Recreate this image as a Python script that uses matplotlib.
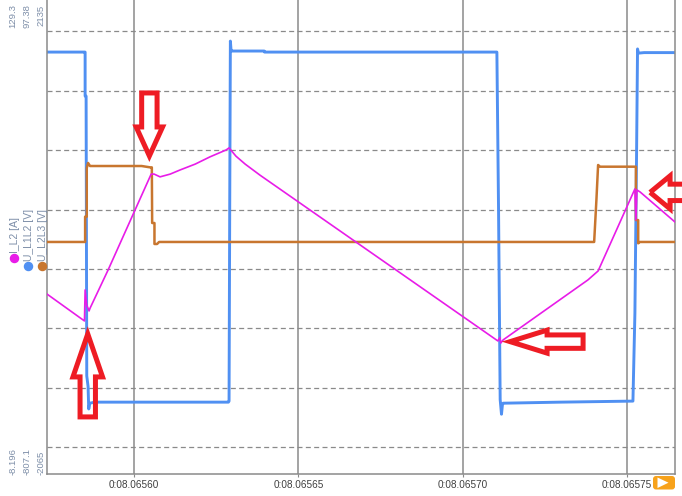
import matplotlib
matplotlib.use("Agg")
import matplotlib.pyplot as plt
import numpy as np
from matplotlib.patches import Polygon, FancyBboxPatch
from matplotlib.lines import Line2D
from matplotlib.transforms import IdentityTransform

plt.rcParams['font.family'] = ['Liberation Sans', 'DejaVu Sans']
plt.rcParams['lines.scale_dashes'] = False

W, H = 682, 496

# time in microseconds after 0:08.06560
t_i = [-26.5, -15.1, -14.9, -14.4, -13.7, -13.4, -7.9, 5.2, 6.1, 7.9, 11.0, 14.0, 18.6, 23.1,
       28.0, 28.9, 31.0, 33.8, 38.3, 110.7, 111.3, 111.6, 112.3, 138.1, 141.2, 152.4, 152.7,
       153.0, 154.0, 164.6]
i_l2 = [44.0, 36.2, 45.2, 40.8, 39.1, 39.9, 51.0, 78.8, 78.8, 78.0, 78.8, 80.0, 81.7, 83.8,
        85.8, 86.4, 84.0, 81.7, 78.5, 30.4, 31.4, 29.8, 30.7, 48.1, 50.7, 74.5, 65.5,
        74.2, 73.6, 64.9]

t_u12 = [-26.5, -15.1, -14.9, -14.9, -14.6, -14.4, -14.0, -13.8, -13.5, -11.9, 28.7, 28.9, 29.1,
         29.3, 29.5, 29.8, 39.6, 39.7, 110.4, 110.9, 111.4, 111.8, 112.1, 112.3, 129.6, 151.8,
         152.4, 152.9, 153.2, 153.5, 155.2, 164.6]
u_l1l2 = [-2, -2, -2, -86, -86, -620, -640, -683, -672, -670, -670, -668, -300,
          19, 2, 0, 0, -2, -2, -300, -665, -693, -674, -672, -670, -668,
          -500, -200, 4, -4, -3, -3]

t_u23 = [-26.5, -14.9, -14.9, -14.4, -14.4, -14.0, -13.4, 2.3, 4.9, 5.4, 5.5, 6.2, 6.2, 7.0,
         7.6, 140.0, 140.7, 141.2, 141.8, 152.1, 152.7, 152.7, 153.4, 153.4, 153.9, 164.6]
u_l2l3 = [-9, -9, 215, 215, 646, 691, 664, 664, 652, 652, 159, 159, -27, -27,
          -9, -9, 372, 673, 658, 658, 658, 185, 185, -21, -9, -9]

names = ["I_L2 [A]", "U_L1L2 [V]", "U_L2L3 [V]"]
colors = ["#e81ce8", "#5090f2", "#c8762f"]
top_labels = ["129.3", "97.38", "2135"]
bottom_labels = ["-8.196", "-807.1", "-2065"]
ranges = [(-8.196, 129.3), (-807.1, 97.38), (-2065, 2135)]

xticks = [0, 50, 100, 150]
xlim = (-26.5, 164.6)

RED = "#ee1c24"
LBL = "#7d8ea8"
GRID = "#8a8a8a"

fig = plt.figure(figsize=(W / 100, H / 100), dpi=100)
ax = fig.add_axes([47 / W, 1 - 474 / H, 628 / W, 474 / H])
ax_o = ax.twinx()
ax_i = ax.twinx()

ax.set_ylim(*ranges[1])
ax_o.set_ylim(*ranges[2])
ax_i.set_ylim(*ranges[0])
ax.set_xlim(*xlim)

# screen divisions
lo, hi = ranges[1]
frac = np.linspace(1 - 31.3 / 474, 1 - 447.3 / 474, 8)
ax.set_yticks(lo + frac * (hi - lo))
ax.grid(axis='y', color=GRID, lw=0.9, linestyle=(0, (3.6, 2.4)))
ax.set_xticks(xticks)
ax.set_xticklabels([f"0:{8.0656 + t * 1e-6:08.5f}" for t in xticks])
ax.grid(axis='x', color=GRID, lw=1.1, linestyle='-')
ax.tick_params(axis='y', left=False, labelleft=False, right=False, labelright=False)
ax.tick_params(axis='x', length=2, color=GRID, pad=2, labelsize=7.2, labelcolor='#404040')
for a in (ax_o, ax_i):
    a.tick_params(left=False, right=False, labelleft=False, labelright=False)
    for s in a.spines.values():
        s.set_visible(False)
ax.spines['top'].set_visible(False)
for s in ('left', 'right', 'bottom'):
    ax.spines[s].set_color(GRID)
    ax.spines[s].set_linewidth(1.1)

ax.plot(t_u12, u_l1l2, color=colors[1], lw=2.1)
ax_o.plot(t_u23, u_l2l3, color=colors[2], lw=1.8)
ax_i.plot(t_i, i_l2, color=colors[0], lw=1.2)

# left side channel scales and legend
col_x = [12.7, 26.5, 40.5]
for k in range(3):
    fig.text(col_x[k] / W, 1 - 4.5 / H, top_labels[k], rotation=90, ha='center', va='top',
             fontsize=6.8, color=LBL)
    fig.text((col_x[k] + 0.5) / W, 1 - 475 / H, bottom_labels[k], rotation=90, ha='center',
             va='bottom', fontsize=6.8, color=LBL)
leg_x = [14, 27.7, 41.7]
leg_dot = [257.7, 266, 266]
for k in range(3):
    fig.text((leg_x[k] + 1.5) / W, 1 - (leg_dot[k] - 5) / H, names[k], rotation=90,
             ha='center', va='bottom', fontsize=7.5, color=LBL)
    fig.add_artist(Line2D([leg_x[k] / W], [1 - leg_dot[k] / H], marker='o', ms=5.8,
                          color=colors[k], transform=fig.transFigure))


# hand drawn block arrows
def block_arrow(tip, direction, head_len, head_half, shaft_half, length):
    x0, y0 = ax_i.transData.transform(tip)
    dx, dy = direction
    px, py = -dy, dx
    d = 1.0
    local = [(-4, 0), (-head_len, head_half - d), (-head_len, shaft_half - d),
             (-length + d, shaft_half - d), (-length + d, -(shaft_half - d)),
             (-head_len, -(shaft_half - d)), (-head_len, -(head_half - d))]
    pts = [(x0 + u * dx + w * px, y0 + u * dy + w * py) for u, w in local]
    fig.add_artist(Polygon(pts, closed=True, fill=False, ec=RED, lw=3.6,
                           joinstyle='miter', transform=IdentityTransform()))


block_arrow((4.65, 82.9), (0, -1), 33, 14.2, 8.7, 68)
block_arrow((-14.1, 33.6), (0, 1), 47, 15.8, 8.7, 88)
block_arrow((113.2, 30.2), (-1, 0), 41, 12.5, 7.7, 78)
block_arrow((155.8, 73.5), (-1, 0), 24, 17.5, 9.2, 50)

# play button
fig.add_artist(FancyBboxPatch((653, H - 489.5), 22, 13.5,
                              boxstyle='round,pad=0,rounding_size=3', fc='#f7a21b',
                              ec='none', transform=IdentityTransform()))
fig.add_artist(Polygon([(657.5, H - 477.5), (657.5, H - 488), (668.5, H - 482.7)],
                       closed=True, fc='white', ec='none', transform=IdentityTransform()))

fig.savefig("out.png", dpi=100)
